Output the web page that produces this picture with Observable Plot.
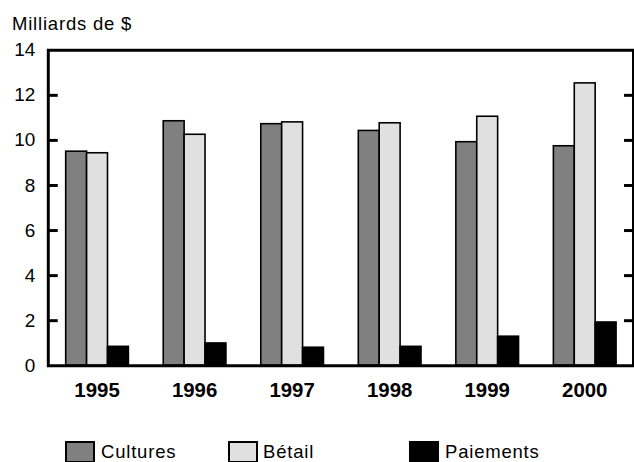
<!DOCTYPE html>
<html>
<head>
<meta charset="utf-8">
<script src="https://cdn.jsdelivr.net/npm/d3@7"></script>
<script src="https://cdn.jsdelivr.net/npm/@observablehq/plot@0.6"></script>
<style>
  html, body { margin: 0; padding: 0; background: #fff; overflow: hidden; }
  #wrap { position: relative; width: 634px; height: 462px; overflow: hidden; font-family: "Liberation Sans", Arial, sans-serif; color: #000; }
  #chart { position: absolute; left: 0; top: 0; }
  .lbl { position: absolute; font-size: 18.5px; line-height: 18px; letter-spacing: 0.8px; white-space: nowrap; }
  .sw { position: absolute; width: 26px; height: 18px; border: 2px solid #000; }
</style>
</head>
<body>
<div id="wrap">
  <div id="chart"></div>
  <div class="lbl" id="title" style="left:12px; top:15px;"></div>
  <div id="legend"></div>
</div>
<script>
const years = ["1995", "1996", "1997", "1998", "1999", "2000"];
const series = ["Cultures", "Bétail", "Paiements"];
const cultures = [9.5, 10.85, 10.72, 10.42, 9.92, 9.74];
const betail = [9.43, 10.25, 10.8, 10.76, 11.05, 12.53];
const paiements = [0.84, 0.99, 0.8, 0.84, 1.29, 1.92];
const colors = ["#808080", "#e0e0e0", "#000000"];
const yTicks = [0, 2, 4, 6, 8, 10, 12, 14];
const innerTicks = [2, 4, 6, 8, 10, 12];
const titleText = "Milliards de $";

const valuesBySeries = [cultures, betail, paiements];
const rows = [];
years.forEach((yr, i) => {
  series.forEach((s, j) => rows.push({year: yr, series: s, value: valuesBySeries[j][i]}));
});

const plot = Plot.plot({
  width: 637,
  height: 462,
  marginTop: 50,
  marginBottom: 95,
  marginLeft: 47,
  marginRight: 0,
  style: {fontFamily: "'Liberation Sans', Arial, sans-serif", fontSize: "18px", background: "transparent"},
  fx: {domain: years, padding: 0},
  x: {domain: series, paddingInner: 0, paddingOuter: 0.77, axis: null},
  y: {domain: [0, 14]},
  color: {domain: series, range: colors},
  marks: [
    Plot.barY(rows, {fx: "year", x: "series", y: "value", fill: "series", stroke: "#000", strokeWidth: 1.6}),
    Plot.frame({facet: "super", stroke: "#000", strokeWidth: 3}),
    Plot.axisY({anchor: "left", ticks: yTicks, tickSize: 0, tickPadding: 13, label: null, fontSize: 19, letterSpacing: 0.5}),
    Plot.axisY({anchor: "left", ticks: innerTicks, tickSize: -10, fill: "none", strokeWidth: 3, label: null}),
    Plot.axisY({anchor: "right", ticks: innerTicks, tickSize: -10, fill: "none", strokeWidth: 3, label: null}),
    Plot.axisFx({anchor: "bottom", tickSize: 0, tickPadding: 17, fontSize: 20.5, fontWeight: "bold", label: null})
  ]
});
document.getElementById("chart").appendChild(plot);
document.getElementById("title").textContent = titleText;

const legend = document.getElementById("legend");
const swLeft = [65, 228, 409];
const txtLeft = [101, 263, 445];
series.forEach((s, j) => {
  const sw = document.createElement("div");
  sw.className = "sw";
  sw.style.left = swLeft[j] + "px";
  sw.style.top = "441px";
  sw.style.background = colors[j];
  legend.appendChild(sw);
  const t = document.createElement("div");
  t.className = "lbl";
  t.style.left = txtLeft[j] + "px";
  t.style.top = "443px";
  t.textContent = s;
  legend.appendChild(t);
});
</script>
</body>
</html>
